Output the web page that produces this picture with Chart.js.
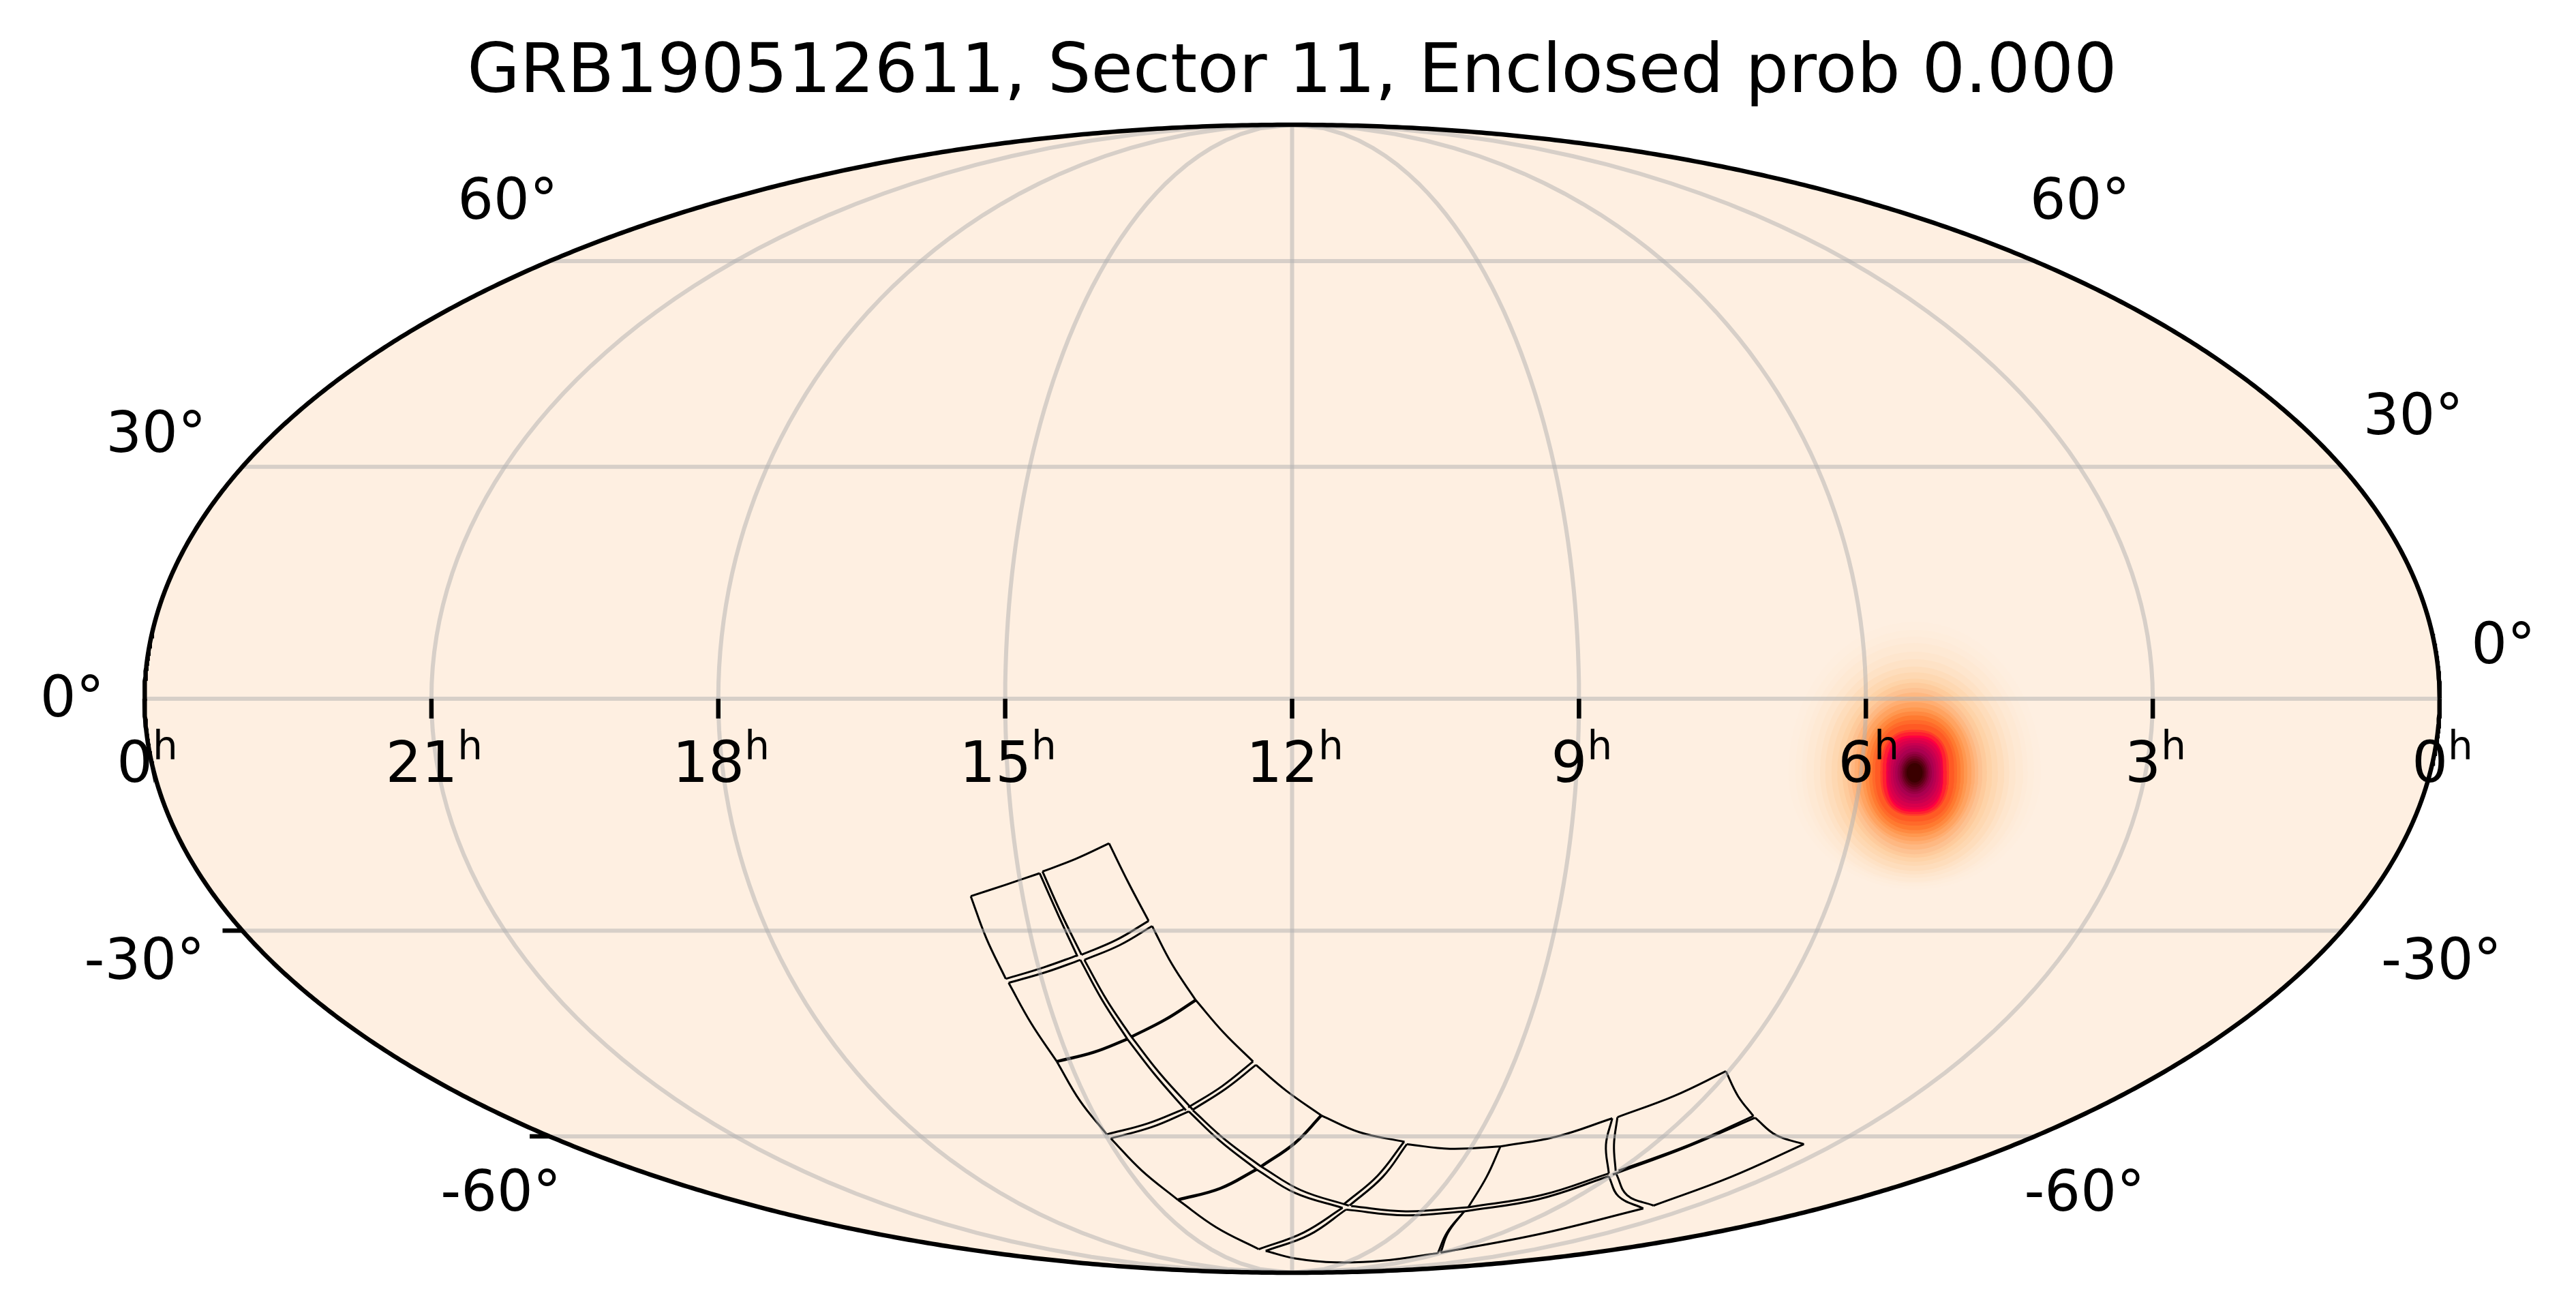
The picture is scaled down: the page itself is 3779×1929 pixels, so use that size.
<!DOCTYPE html>
<html><head><meta charset="utf-8">
<style>html,body{margin:0;padding:0;background:#fff}canvas{display:block}</style>
<script src="https://cdn.jsdelivr.net/npm/chart.js@4"></script>
</head><body><canvas id="c" width="3779" height="1929"></canvas>
<script>
const chartTitle = "GRB190512611, Sector 11, Enclosed prob 0.000";
// axis grid and labels
const raTicks = [24,21,18,15,12,9,6,3,0];
const raGrid = [21,18,15,12,9,6,3];
const raLabels = ["0","21","18","15","12","9","6","3","0"];
const decGrid = [-60,-30,0,30,60];
const decTickLeft = [-30,-60];
// declination labels: text, map x, map y (map: x -2000..2000, y -1000..1000)
const decLabelText = ["60°","60°","30°","30°","0°","0°","-30°","-30°","-60°","-60°"];
const decLabelX = [-1367,1373,-1980,1954,-2126,2111,-2000,2003,-1379,1381];
const decLabelY = [862,862,456,487,-5,87,-463,-463,-866,-866];
// probability blob: centre and nested contour extents in map units, outer to inner
const blobCentre = [1085,-128];
const blobHalfWidth = [220,208,197,189,176,165,156,145,135,126,118,111,105,99,92,86,80,74,69,60,56,50,49,46,42,38,34,30,26,23,20,17,14];
const blobTop = [262,248,236,225,210,197,184,174,163,156,147,139,130,122,113,106,99,91,84,74,70,64,60,56,51,47,42,36,32,28,24,20,16];
const blobBottom = [204,199,194,191,184,178,172,163,156,149,143,135,126,120,113,107,101,93,86,76,73,69,65,61,55,50,44,38,34,30,26,22,18];
const blobShape = [2,2,2,2,2,2,2,2,2,2,2,2,2,2.1,2.1,2.2,2.2,2.3,2.4,2.5,2.6,2.7,2.6,2.4,2.3,2.2,2.1,2,2,2,2,2,2];
const blobColors = ["#FEEEDF","#FEEDDC","#FEEBD9","#FEE9D4","#FEE6CE","#FEE2C6","#FEDDBC","#FED8B2","#FED3A8","#FECB9C","#FDC292","#FEB882","#FFAE72","#FFA361","#FF9850","#FF8940","#FF7A30","#FF6A2A","#FF5A24","#FF3D2A","#FF2030","#FF0040","#E80048","#D8004C","#C80050","#B90050","#AA0050","#990044","#880038","#740028","#600018","#4D000C","#3A0000"];
// sector footprint edges, each arc x1,y1,x2,y2,... in map units
const outerEdge = [
 [-319,-252,-285,-321,-250,-387],[-244,-396,-209,-463,-168,-525],[-168,-525,-119,-582,-68,-632],
 [-63,-638,-10,-683,51,-726],[51,-726,117,-755,196,-772],[200,-776,275,-784,363,-780],
 [363,-780,460,-763,558,-731],[567,-729,666,-692,756,-649]];
const lowerEdge = [
 [-560,-344,-533,-417,-499,-488],[-494,-495,-455,-565,-410,-632],[-410,-632,-370,-700,-323,-759],
 [-316,-766,-262,-822,-199,-873],[-199,-873,-132,-921,-58,-959],[-46,-962,5,-975,76,-982,158,-979,254,-966],
 [259,-965,434,-932,612,-888],[630,-883,765,-833,892,-776]];
const centreUpper = [
 [-435,-301,-402,-375,-367,-446],[-362,-455,-323,-525,-280,-589],[-280,-589,-231,-652,-173,-716],
 [-173,-717,-117,-768,-54,-815],[-54,-815,15,-856,99,-883],[103,-884,198,-893,307,-886],
 [307,-886,434,-865,552,-827],[569,-822,693,-777,804,-727]];
const centreLower = [
 [-440,-304,-407,-378,-374,-449],[-369,-455,-331,-525,-287,-593],[-287,-593,-239,-655,-185,-717],
 [-180,-719,-125,-771,-62,-820],[-62,-820,5,-861,88,-887],[94,-890,198,-900,300,-893],
 [300,-893,429,-872,552,-832],[559,-829,688,-781,807,-730]];
const rungs = [
 [-560,-344,-499,-324,-440,-304],[-435,-301,-377,-279,-319,-252],
 [-367,-446,-306,-420,-250,-387],[-362,-455,-300,-429,-244,-396],
 [-499,-488,-433,-468,-374,-447],[-494,-495,-428,-476,-369,-455],
 [-181,-712,-122,-675,-68,-632],[-173,-716,-115,-679,-63,-638],
 [-323,-759,-252,-740,-189,-715],[-316,-766,-244,-746,-180,-719],
 [91,-880,149,-831,195,-772],[100,-883,158,-833,200,-776],
 [-58,-959,20,-930,88,-887],[-46,-962,30,-934,94,-890],
 [307,-886,339,-833,363,-780],[254,-966,270,-930,300,-893],[259,-965,272,-930,300,-893],
 [552,-827,547,-777,558,-731],[564,-823,561,-777,567,-729],
 [552,-832,569,-867,612,-888],[565,-828,584,-865,630,-883],
 [804,-727,777,-692,756,-649],[807,-730,843,-760,892,-776]];
const thickRungs = [
 [-280,-589,-221,-559,-168,-525],[-410,-632,-346,-616,-287,-593],
 [-54,-815,5,-774,51,-726],[-199,-873,-125,-853,-62,-820]];

// Mollweide projection into map units
function auxAngle(decDeg){
  const phi = decDeg*Math.PI/180;
  if (Math.abs(decDeg)>=90) return Math.sign(decDeg)*Math.PI/2;
  let t = phi;
  for (let i=0;i<60;i++){ t -= (2*t+Math.sin(2*t)-Math.PI*Math.sin(phi))/(2+2*Math.cos(2*t)); }
  return t;
}
function project(raH,decDeg){
  const t = auxAngle(decDeg);
  return {x:(12-raH)/12*2000*Math.cos(t), y:1000*Math.sin(t)};
}
const arcPoints = a => { const p=[]; for(let i=0;i<a.length;i+=2) p.push({x:a[i],y:a[i+1]}); return p; };
const datasets = [];
function line(data,style,order){
  datasets.push(Object.assign({type:'scatter',showLine:true,data,pointRadius:0,pointHoverRadius:0,borderColor:'#000',borderWidth:3,backgroundColor:'transparent',fill:false,tension:0,clip:false,order},style));
}
const bg = '#FEEFE1';
const upper=[],lower=[];
for(let a=0;a<=720;a++){ const t=a/720*Math.PI; upper.push({x:-2000*Math.cos(t),y:1000*Math.sin(t)}); lower.push({x:-2000*Math.cos(t),y:-1000*Math.sin(t)}); }
line(upper,{fill:'origin',backgroundColor:bg,borderWidth:0},100);
line(lower,{fill:'origin',backgroundColor:bg,borderWidth:0},100);
// blob contours, each filled as an upper and a lower half
blobHalfWidth.forEach((w,i)=>{
  const n=blobShape[i], up=[], dn=[];
  for(let a=0;a<=60;a++){
    const t=a/60*Math.PI, c=-Math.cos(t), s=Math.sin(t);
    const px=blobCentre[0]+w*Math.sign(c)*Math.pow(Math.abs(c),2/n);
    const ps=Math.pow(Math.abs(s),2/n);
    up.push({x:px,y:blobCentre[1]+blobTop[i]*ps});
    dn.push({x:px,y:blobCentre[1]-blobBottom[i]*ps});
  }
  line(up,{fill:{target:{value:blobCentre[1]-2},above:blobColors[i],below:blobColors[i]},borderWidth:0},90-i);
  line(dn,{fill:{target:{value:blobCentre[1]+2},above:blobColors[i],below:blobColors[i]},borderWidth:0},90-i);
});
// outline
[outerEdge,lowerEdge,centreUpper,centreLower,rungs].forEach(g=>g.forEach(a=>line(arcPoints(a),{tension:0.4},50)));
thickRungs.forEach(a=>line(arcPoints(a),{tension:0.4,borderWidth:4.4},50));
// grid
const gridStyle={borderColor:'rgba(176,176,176,0.5)',borderWidth:6};
raGrid.forEach(r=>{ const pts=[]; for(let d=-90;d<=90;d+=2) pts.push(project(r,d)); line(pts,gridStyle,40); });
decGrid.forEach(d=>{ line([project(24,d),project(0,d)],gridStyle,40); });
// frame
line(upper,{borderWidth:6.5},10);
line(lower,{borderWidth:6.5},10);

const labelPlugin={id:'labels',afterDatasetsDraw(chart){
  const {ctx,scales:{x,y}}=chart;
  ctx.save();
  ctx.strokeStyle='#000'; ctx.fillStyle='#000'; ctx.lineWidth=6.5;
  raTicks.forEach(r=>{ if(r===24||r===0) return;
    const px=x.getPixelForValue((12-r)/12*2000), py=y.getPixelForValue(0);
    ctx.beginPath(); ctx.moveTo(px,py); ctx.lineTo(px,py+29); ctx.stroke(); });
  decTickLeft.forEach(d=>{ const p=project(0,d); const px=x.getPixelForValue(-p.x), py=y.getPixelForValue(p.y);
    ctx.beginPath(); ctx.moveTo(px,py); ctx.lineTo(px-29,py); ctx.stroke(); });
  ctx.textBaseline='alphabetic'; ctx.textAlign='left';
  raTicks.forEach((r,i)=>{
    const px=x.getPixelForValue((12-r)/12*2000)+4, py=y.getPixelForValue(0)+122;
    ctx.font='83px "DejaVu Sans"'; const w1=ctx.measureText(raLabels[i]).width;
    ctx.font='58px "DejaVu Sans"'; const w2=ctx.measureText('h').width;
    const sx=px-(w1+w2)/2;
    ctx.font='83px "DejaVu Sans"'; ctx.fillText(raLabels[i],sx,py);
    ctx.font='58px "DejaVu Sans"'; ctx.fillText('h',sx+w1,py-33);
  });
  ctx.font='83px "DejaVu Sans"'; ctx.textAlign='center'; ctx.textBaseline='middle';
  decLabelText.forEach((t,i)=>ctx.fillText(t,x.getPixelForValue(decLabelX[i]),y.getPixelForValue(decLabelY[i])));
  ctx.restore();
}};

new Chart(document.getElementById('c'),{
  data:{datasets},
  plugins:[labelPlugin],
  options:{
    responsive:false,animation:false,devicePixelRatio:1,events:[],
    layout:{padding:{left:212,right:200,top:0,bottom:62}},
    scales:{x:{type:'linear',display:false,min:-2000,max:2000},y:{type:'linear',display:false,min:-1000,max:1000}},
    plugins:{legend:{display:false},tooltip:{enabled:false},
      title:{display:true,text:chartTitle,color:'#000',font:{family:'"DejaVu Sans"',size:100,weight:'normal',lineHeight:1.2},padding:{top:49,bottom:14}}}
  }
});
</script></body></html>
